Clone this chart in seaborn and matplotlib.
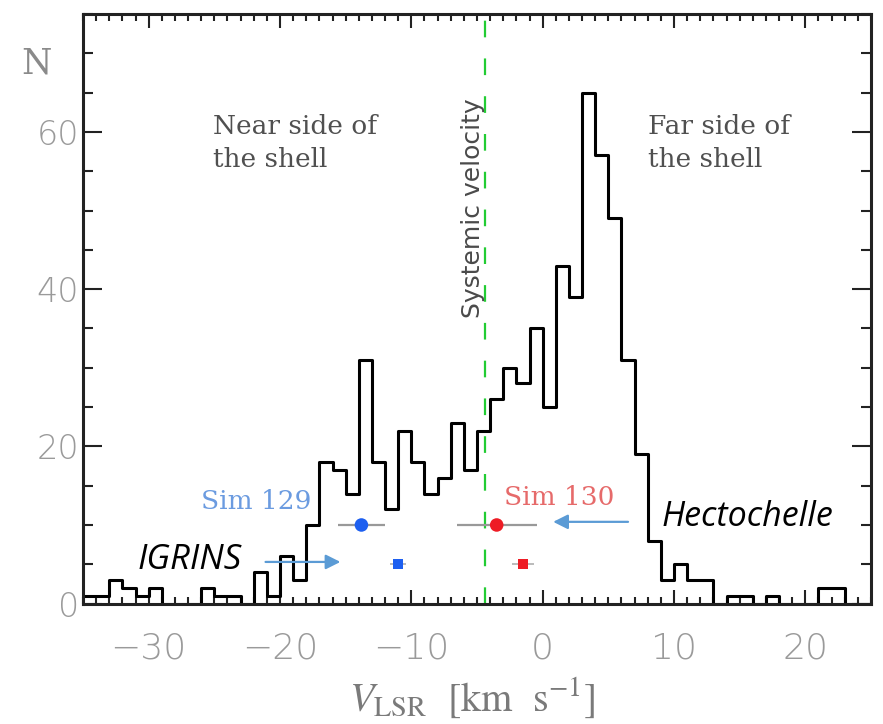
import numpy as np
import pandas as pd
import matplotlib
matplotlib.use("Agg")
import matplotlib.pyplot as plt
from matplotlib.ticker import MultipleLocator
import seaborn as sns

# Histogram of stellar radial velocities, 1 km/s bins from -35 to 25
bin_edges = list(range(-35, 26))
counts = [1, 1, 3, 2, 1, 2, 0, 0, 0, 2,
          1, 1, 0, 4, 1, 6, 3, 10, 18, 17,
          14, 31, 18, 12, 22, 18, 14, 16, 23, 17,
          22, 26, 30, 28, 35, 25, 43, 39, 65, 57,
          49, 31, 19, 8, 3, 5, 3, 3, 0, 1,
          1, 0, 1, 0, 0, 0, 2, 2, 0, 0]

# Simulation comparison points (velocity, N level, horizontal error)
sim_names = ["Sim 129", "Sim 130"]
hecto_v = [-13.8, -3.5]
hecto_err = [1.8, 3.05]
hecto_n = [10, 10]
igrins_v = [-11.0, -1.5]
igrins_err = [0.6, 0.85]
igrins_n = [5, 5]
sim_colors = ["#1d5ff0", "#ee1c25"]
sim_text_colors = ["#6b9be0", "#e66a6a"]

v_sys = -4.4

sns.set_theme(style="ticks")
plt.rcParams["font.family"] = ["DejaVu Sans"]
plt.rcParams["mathtext.fontset"] = "stix"

fig = plt.figure(figsize=(8.83, 7.24), dpi=100)
ax = fig.add_axes([0.094, 0.1663, 0.8924, 0.8144])

centers = [e + 0.5 for e in bin_edges[:-1]]
hist_df = pd.DataFrame({"v": centers, "n": counts})
sns.histplot(data=hist_df, x="v", weights="n", bins=bin_edges,
             element="step", fill=False, color="black", linewidth=2.2, ax=ax)

# systemic velocity
ax.axvline(v_sys, color="#22cc33", lw=1.6, ls=(0, (7.5, 9.5)), zorder=2)

# error bars behind the markers
ax.errorbar(hecto_v, hecto_n, xerr=hecto_err, fmt="none", ecolor="#999999",
            elinewidth=1.6, capsize=0, zorder=3)
ax.errorbar(igrins_v, igrins_n, xerr=igrins_err, fmt="none", ecolor="#bbbbbb",
            elinewidth=1.4, capsize=0, zorder=3)

hecto_df = pd.DataFrame({"v": hecto_v, "n": hecto_n, "sim": sim_names})
igrins_df = pd.DataFrame({"v": igrins_v, "n": igrins_n, "sim": sim_names})
sns.scatterplot(data=hecto_df, x="v", y="n", hue="sim", palette=sim_colors,
                marker="o", s=95, edgecolor="none", legend=False, ax=ax, zorder=4)
sns.scatterplot(data=igrins_df, x="v", y="n", hue="sim", palette=sim_colors,
                marker="s", s=50, edgecolor="none", legend=False, ax=ax, zorder=4)

ax.set_xlim(-35, 25)
ax.set_ylim(0, 75)
ax.set_xlabel("")
ax.set_ylabel("")

ax.xaxis.set_major_locator(MultipleLocator(10))
ax.xaxis.set_minor_locator(MultipleLocator(1))
ax.yaxis.set_major_locator(MultipleLocator(20))
ax.yaxis.set_minor_locator(MultipleLocator(5))

ax.tick_params(which="both", direction="in", top=True, right=True,
               width=1.5, color="#222222")
ax.tick_params(axis="x", which="major", length=10, pad=20,
               labelsize=26, labelcolor="#9a9a9a")
ax.tick_params(axis="x", which="minor", length=5)
ax.tick_params(axis="y", which="major", length=14, pad=3,
               labelsize=24, labelcolor="#9a9a9a")
ax.tick_params(axis="y", which="minor", length=7.5)
for lab in ax.get_xticklabels() + ax.get_yticklabels():
    lab.set_fontweight("light")

for sp in ax.spines.values():
    sp.set_linewidth(2.2)
    sp.set_color("#222222")

# annotations
serif = "DejaVu Serif"
ax.text(-25.1, 62.3, "Near side of\nthe shell", family=serif, fontsize=19,
        color="#505050", ha="left", va="top", linespacing=1.4)
ax.text(8.0, 62.3, "Far side of\nthe shell", family=serif, fontsize=19,
        color="#505050", ha="left", va="top", linespacing=1.4)
ax.text(-5.3, 50.3, "Systemic velocity", fontsize=18, color="#4a4a4a",
        rotation=90, ha="center", va="center")

ax.text(-21.8, 13.0, sim_names[0], family=serif, fontsize=19,
        color=sim_text_colors[0], ha="center", va="center")
ax.text(1.25, 13.5, sim_names[1], family=serif, fontsize=19,
        color=sim_text_colors[1], ha="center", va="center")

ax.text(-26.9, 5.6, "IGRINS", family="Open Sans", style="italic",
        fontsize=25, color="black", ha="center", va="center")
ax.text(15.6, 11.0, "Hectochelle", family="Open Sans", style="italic",
        fontsize=24.5, color="black", ha="center", va="center")

arrow_kw = dict(arrowstyle="-|>", color="#5b9bd5", lw=1.6, mutation_scale=22,
                shrinkA=0, shrinkB=0)
ax.annotate("", xy=(-15.4, 5.3), xytext=(-21.1, 5.3), arrowprops=arrow_kw)
ax.annotate("", xy=(0.8, 10.4), xytext=(6.5, 10.4), arrowprops=arrow_kw)

# axis titles
fig.text(36 / 883, 1 - 64 / 724, "N", family=serif, fontsize=25,
         color="#8a8a8a", ha="center", va="center")
fig.text(472 / 883, 1 - 698 / 724, r"$V_{\rm LSR}$  [km  s$^{-1}$]",
         family="STIXGeneral", fontsize=29, color="#7a7a7a",
         ha="center", va="center")

fig.savefig("out.png", dpi=100)
